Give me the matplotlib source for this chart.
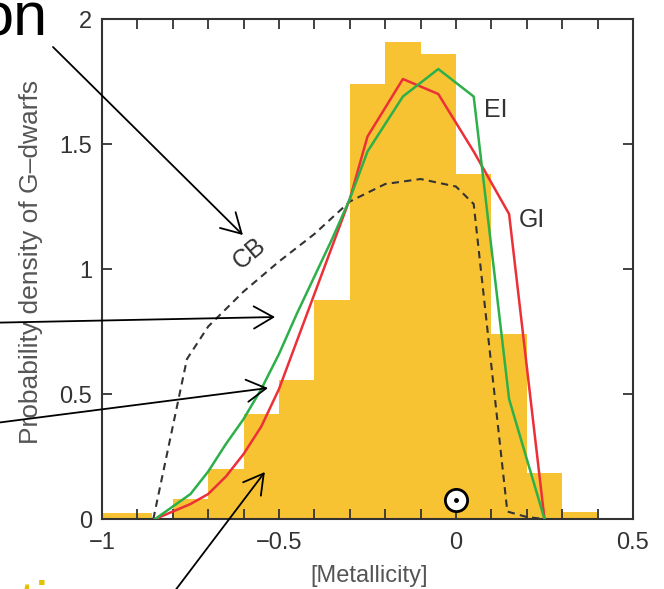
import matplotlib
matplotlib.use('Agg')
import matplotlib.pyplot as plt
import numpy as np

plt.rcParams['font.family'] = ['Liberation Sans', 'DejaVu Sans']

# histogram of G-dwarfs (bin edges and heights)
bin_edges = [-1.0, -0.86, -0.8, -0.7, -0.6, -0.5, -0.4, -0.3, -0.2, -0.1, 0.0, 0.1, 0.2, 0.3, 0.4]
bin_heights = [0.025, 0.0, 0.08, 0.20, 0.42, 0.555, 0.875, 1.74, 1.91, 1.86, 1.38, 0.74, 0.185, 0.03]

# GI model (red)
gi_x = [-0.85, -0.8, -0.75, -0.7, -0.65, -0.6, -0.55, -0.5, -0.45, -0.4, -0.35, -0.3, -0.25, -0.15, -0.05, 0.05, 0.15, 0.25]
gi_y = [0.0, 0.03, 0.06, 0.10, 0.17, 0.26, 0.37, 0.52, 0.71, 0.90, 1.09, 1.28, 1.53, 1.76, 1.70, 1.47, 1.22, 0.0]

# EI model (green)
ei_x = [-0.85, -0.8, -0.75, -0.7, -0.65, -0.6, -0.55, -0.5, -0.45, -0.4, -0.35, -0.3, -0.25, -0.15, -0.05, 0.05, 0.15, 0.25]
ei_y = [0.0, 0.05, 0.10, 0.19, 0.30, 0.40, 0.52, 0.66, 0.82, 0.97, 1.12, 1.28, 1.47, 1.69, 1.80, 1.69, 0.48, 0.0]

# CB model (dashed)
cb_x = [-0.855, -0.76, -0.7, -0.6, -0.5, -0.4, -0.3, -0.2, -0.1, 0.0, 0.05, 0.145, 0.2, 0.25]
cb_y = [0.0, 0.64, 0.77, 0.91, 1.03, 1.14, 1.27, 1.34, 1.36, 1.33, 1.26, 0.03, 0.008, 0.0]

sun_x, sun_y = 0.0, 0.077

# arrows: tip in data coords, tail in figure pixels
arrow_tips = [(-0.602, 1.136), (-0.511, 0.808), (-0.531, 0.524), (-0.540, 0.188)]
arrow_tails = [(53, 542), (-20, 266), (-20, 164), (168, -11)]

fig = plt.figure(figsize=(6.64, 5.89), dpi=100)
ax = fig.add_axes([0.1536, 0.1188, 0.7997, 0.8489])

ax.stairs(bin_heights, bin_edges, fill=True, color='#F8C333', lw=0, zorder=1)
ax.plot(cb_x, cb_y, color='#333333', lw=1.5, ls=(0, (3.5, 2.5)), zorder=3)
ax.plot(gi_x, gi_y, color='#EC3038', lw=1.8, zorder=3)
ax.plot(ei_x, ei_y, color='#2DB04A', lw=1.8, zorder=4)

ax.plot(sun_x, sun_y, 'o', ms=16, mfc='white', mec='black', mew=2, zorder=5)
ax.plot(sun_x, sun_y, 'o', ms=2.5, color='black', zorder=6)

ax.text(0.113, 1.636, 'EI', fontsize=18, color='#333333', ha='center', va='center')
ax.text(0.215, 1.196, 'GI', fontsize=18, color='#333333', ha='center', va='center')
ax.text(-0.582, 1.064, 'CB', fontsize=18, color='#333333', ha='center', va='center', rotation=40)

ax.set_xlim(-1, 0.5)
ax.set_ylim(0, 2)
ax.set_xticks([-1, -0.5, 0, 0.5])
ax.set_xticklabels(['\u22121', '\u22120.5', '0', '0.5'])
ax.set_xticks(np.arange(-0.9, 0.45, 0.1), minor=True)
ax.set_yticks([0, 0.5, 1, 1.5, 2])
ax.set_yticklabels(['0', '0.5', '1', '1.5', '2'])
ax.tick_params(which='both', direction='in', top=True, right=True, length=7, width=1.3,
               color='#333333', labelsize=17, labelcolor='#333333')
ax.tick_params(axis='x', pad=9)
ax.tick_params(axis='y', pad=7)
for s in ax.spines.values():
    s.set_color('#333333')
    s.set_linewidth(1.5)

ax.set_xlabel('[Metallicity]', fontsize=17, color='#555555')
ax.xaxis.set_label_coords(0.503, -0.092)
ax.set_ylabel('Probability density of G\u2013dwarfs', fontsize=19, color='#555555')
ax.yaxis.set_label_coords(-0.111, 0.514)

for tip, tail in zip(arrow_tips, arrow_tails):
    ax.annotate('', xy=tip, xycoords='data', xytext=tail, textcoords='figure pixels',
                arrowprops=dict(arrowstyle='->,head_length=0.7,head_width=0.4', lw=1.3,
                                color='black', shrinkA=0, shrinkB=0, mutation_scale=20),
                zorder=7)

# slide text cut off at the edges
fig.text(48 / 664, 1 - 35 / 589, 'on', fontsize=44, ha='right', va='baseline', color='black')
fig.text(18 / 664, (589 - 623) / 589, 'ti', fontsize=44, ha='left', va='baseline', color='#E3C000')

fig.savefig('out.png', dpi=100)
